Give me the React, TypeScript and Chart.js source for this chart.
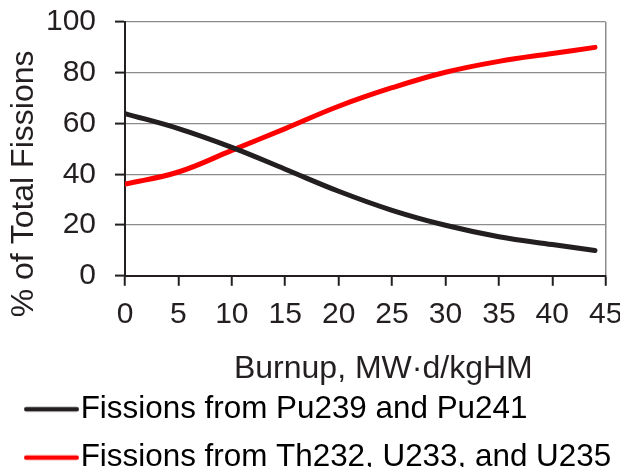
import React, { useEffect, useRef } from 'react';
import { Chart, registerables } from 'chart.js';

Chart.register(...registerables);

// ---- data ----
const burnup = [0, 5, 10, 15, 20, 25, 30, 35, 40, 44];
const puFissions = [63.9, 58, 50.6, 42, 33.3, 25.8, 19.9, 15.4, 12.3, 10];
const thuFissions = [36.1, 40.9, 49.4, 58, 66.8, 74.1, 80.2, 84.5, 87.6, 90];
const xTicks = [0, 5, 10, 15, 20, 25, 30, 35, 40, 45];
const yTicks = [0, 20, 40, 60, 80, 100];
const seriesNames = ['Fissions from Pu239 and Pu241', 'Fissions from Th232, U233, and U235'];
const seriesColors = ['#231f20', '#ff0000'];
const xTitle = 'Burnup, MW\u00b7d/kgHM';
const yTitle = '% of Total Fissions';

const FONT = '"Liberation Sans", Arial, Helvetica, sans-serif';
const TEXT = '#231f20';
const GRID = '#8c8c8c';

function legendLine(color: string): HTMLCanvasElement {
  const c = document.createElement('canvas');
  c.width = 68;
  c.height = 8;
  const ctx = c.getContext('2d')!;
  ctx.strokeStyle = color;
  ctx.lineWidth = 4.6;
  ctx.lineCap = 'round';
  ctx.beginPath();
  ctx.moveTo(13 + 2.3, 4);
  ctx.lineTo(68 - 2.3, 4);
  ctx.stroke();
  return c;
}

const titlePlugin = {
  id: 'axisTitlesCustom',
  afterDraw(chart: any) {
    const { ctx, chartArea } = chart;
    const { left, right, top, bottom } = chartArea;
    ctx.save();
    ctx.fillStyle = TEXT;
    ctx.textAlign = 'center';
    ctx.textBaseline = 'middle';
    ctx.font = `32px ${FONT}`;
    ctx.fillText(xTitle, (left + right) / 2 + 18, bottom + 93);
    ctx.translate(16, (top + bottom) / 2 + 35);
    ctx.rotate(-Math.PI / 2);
    ctx.font = `32px ${FONT}`;
    ctx.fillText(yTitle, 0, 0);
    ctx.restore();
  },
};

export default function App() {
  const ref = useRef<HTMLCanvasElement | null>(null);

  useEffect(() => {
    if (!ref.current) return;
    const imgs = seriesColors.map(legendLine);
    const lineStyle = {
      borderWidth: 5,
      pointRadius: 0,
      borderCapStyle: 'round',
      borderJoinStyle: 'round',
      tension: 0.4,
      fill: false,
    };
    const chart = new Chart(ref.current, {
      type: 'line',
      data: {
        datasets: [
          {
            label: seriesNames[0],
            data: burnup.map((x, i) => ({ x, y: puFissions[i] })),
            borderColor: seriesColors[0],
            backgroundColor: seriesColors[0],
            ...lineStyle,
          },
          {
            label: seriesNames[1],
            data: burnup.map((x, i) => ({ x, y: thuFissions[i] })),
            borderColor: seriesColors[1],
            backgroundColor: seriesColors[1],
            ...lineStyle,
          },
        ],
      },
      options: {
        responsive: false,
        animation: false,
        events: [],
        layout: { padding: { top: 14, right: 0, left: 0, bottom: -8.3 } },
        plugins: {
          tooltip: { enabled: false },
          title: { display: false },
          legend: {
            display: true,
            position: 'bottom',
            align: 'start',
            labels: {
              usePointStyle: true,
              pointStyleWidth: 40,
              boxHeight: 4,
              padding: 17,
              color: TEXT,
              font: { family: FONT, size: 31.4 },
              generateLabels: (ch: any) =>
                ch.data.datasets.map((d: any, i: number) => ({
                  text: d.label,
                  pointStyle: imgs[i],
                  fillStyle: seriesColors[i],
                  strokeStyle: seriesColors[i],
                  lineWidth: 0,
                  hidden: false,
                  datasetIndex: i,
                })),
            },
          },
        },
        scales: {
          x: {
            type: 'linear',
            min: 0,
            max: 45,
            afterBuildTicks: (s: any) => {
              s.ticks = xTicks.map((v) => ({ value: v }));
            },
            afterFit: (s: any) => {
              s.height = 100.7;
              s.paddingLeft = 0;
              s.paddingRight = 22.3;
            },
            ticks: {
              autoSkip: false,
              maxRotation: 0,
              color: TEXT,
              padding: 11,
              font: { family: FONT, size: 30 },
            },
            grid: {
              color: (c: any) => (c.tick && c.tick.value === 45 ? GRID : 'rgba(0,0,0,0)'),
              lineWidth: 1.5,
              tickColor: TEXT,
              tickLength: 10,
              tickWidth: 2,
            },
            border: { color: TEXT, width: 2 },
          },
          y: {
            min: 0,
            max: 100,
            afterBuildTicks: (s: any) => {
              s.ticks = yTicks.map((v) => ({ value: v }));
            },
            afterFit: (s: any) => {
              s.width = 117;
              s.paddingTop = 0;
              s.paddingBottom = 0;
            },
            ticks: {
              color: TEXT,
              padding: 19,
              font: { family: FONT, size: 30 },
            },
            grid: {
              color: GRID,
              lineWidth: 1.2,
              tickColor: TEXT,
              tickLength: 10,
              tickWidth: 2,
            },
            border: { color: TEXT, width: 2 },
          },
        },
      },
      plugins: [titlePlugin],
    } as any);
    return () => chart.destroy();
  }, []);

  return (
    <div style={{ width: 620, height: 467, marginRight: -8, marginBottom: -8 }}>
      <canvas ref={ref} width={620} height={467} style={{ display: 'block' }} />
    </div>
  );
}
